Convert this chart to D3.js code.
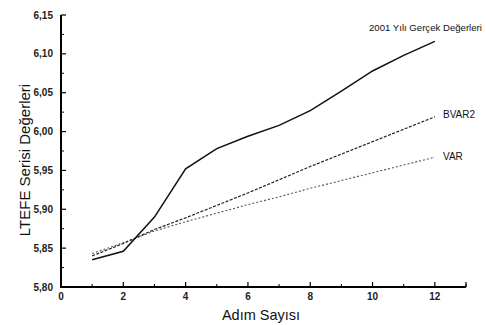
<!DOCTYPE html>
<html><head><meta charset="utf-8">
<script src="https://cdn.jsdelivr.net/npm/d3@7"></script>
<style>body{margin:0;background:#fff}svg{display:block}text{font-family:"Liberation Sans",Arial,sans-serif}</style>
</head><body>
<svg id="c" width="486" height="325"></svg>
<script>
const steps = [1,2,3,4,5,6,7,8,9,10,11,12];
const actual = [5.835,5.846,5.890,5.952,5.978,5.994,6.008,6.027,6.052,6.078,6.098,6.116];
const bvar2  = [5.840,5.856,5.874,5.889,5.905,5.921,5.938,5.955,5.971,5.987,6.003,6.019];
const varS   = [5.843,5.857,5.872,5.884,5.895,5.906,5.916,5.927,5.937,5.947,5.957,5.967];
const yTicks = [5.80,5.85,5.90,5.95,6.00,6.05,6.10,6.15];
const xTicks = [0,2,4,6,8,10,12];
const seriesLabels = ["2001 Yılı Gerçek Değerleri","BVAR2","VAR"];

const svg = d3.select("#c");
const x = d3.scaleLinear().domain([0,13]).range([61,466]);
const y = d3.scaleLinear().domain([5.80,6.15]).range([287,15]);
const fmt = d => d3.format(".2f")(d).replace(".", ",");

// axes lines
svg.append("line").attr("x1",x(0)).attr("x2",x(0)).attr("y1",y(5.80)+1).attr("y2",y(6.15)).attr("stroke","#000").attr("stroke-width",2);
svg.append("line").attr("x1",x(0)).attr("x2",x(13)).attr("y1",y(5.80)).attr("y2",y(5.80)).attr("stroke","#000").attr("stroke-width",2);

// y ticks
const yMinor = d3.range(5.825,6.15,0.05);
svg.selectAll(".ymaj").data(yTicks).enter().append("line")
  .attr("x1",x(0)).attr("x2",x(0)+5).attr("y1",d=>y(d)).attr("y2",d=>y(d)).attr("stroke","#000").attr("stroke-width",1.2);
svg.selectAll(".ymin").data(yMinor).enter().append("line")
  .attr("x1",x(0)).attr("x2",x(0)+3).attr("y1",d=>y(d)).attr("y2",d=>y(d)).attr("stroke","#000").attr("stroke-width",1);
svg.selectAll(".ylab").data(yTicks).enter().append("text")
  .attr("x",x(0)-8).attr("y",d=>y(d)+3.5).attr("text-anchor","end").attr("font-size",10).attr("font-weight","bold").attr("fill","#222").text(fmt);

// x ticks
const xMinor = d3.range(1,14,2);
svg.selectAll(".xmaj").data(xTicks.concat([13])).enter().append("line")
  .attr("x1",d=>x(d)).attr("x2",d=>x(d)).attr("y1",y(5.80)).attr("y2",y(5.80)-5).attr("stroke","#000").attr("stroke-width",1.2);
svg.selectAll(".xmin").data(xMinor).enter().append("line")
  .attr("x1",d=>x(d)).attr("x2",d=>x(d)).attr("y1",y(5.80)).attr("y2",y(5.80)-3).attr("stroke","#000").attr("stroke-width",1);
svg.selectAll(".xlab").data(xTicks).enter().append("text")
  .attr("x",d=>x(d)).attr("y",300).attr("text-anchor","middle").attr("font-size",10).attr("font-weight","bold").attr("fill","#222").text(d=>d);

// axis titles
svg.append("text").attr("x",261).attr("y",320).attr("text-anchor","middle").attr("font-size",14.5).attr("fill","#111").text("Adım Sayısı");
svg.append("text").attr("transform","translate(30,160) rotate(-90)").attr("text-anchor","middle").attr("font-size",15).attr("fill","#111").text("LTEFE Serisi Değerleri");

// lines
const line = d3.line().x((d,i)=>x(steps[i])).y(d=>y(d));
svg.append("path").datum(varS).attr("d",line).attr("fill","none").attr("stroke","#555").attr("stroke-width",1.1).attr("stroke-dasharray","2,2");
svg.append("path").datum(bvar2).attr("d",line).attr("fill","none").attr("stroke","#222").attr("stroke-width",1.2).attr("stroke-dasharray","3,1.5");
svg.append("path").datum(actual).attr("d",line).attr("fill","none").attr("stroke","#111").attr("stroke-width",1.5);

// series labels
svg.append("text").attr("x",369).attr("y",31).attr("font-size",9.6).attr("fill","#111").text(seriesLabels[0]);
svg.append("text").attr("x",443).attr("y",118).attr("font-size",10).attr("fill","#111").text(seriesLabels[1]);
svg.append("text").attr("x",443).attr("y",160).attr("font-size",10).attr("fill","#111").text(seriesLabels[2]);
</script>
</body></html>
